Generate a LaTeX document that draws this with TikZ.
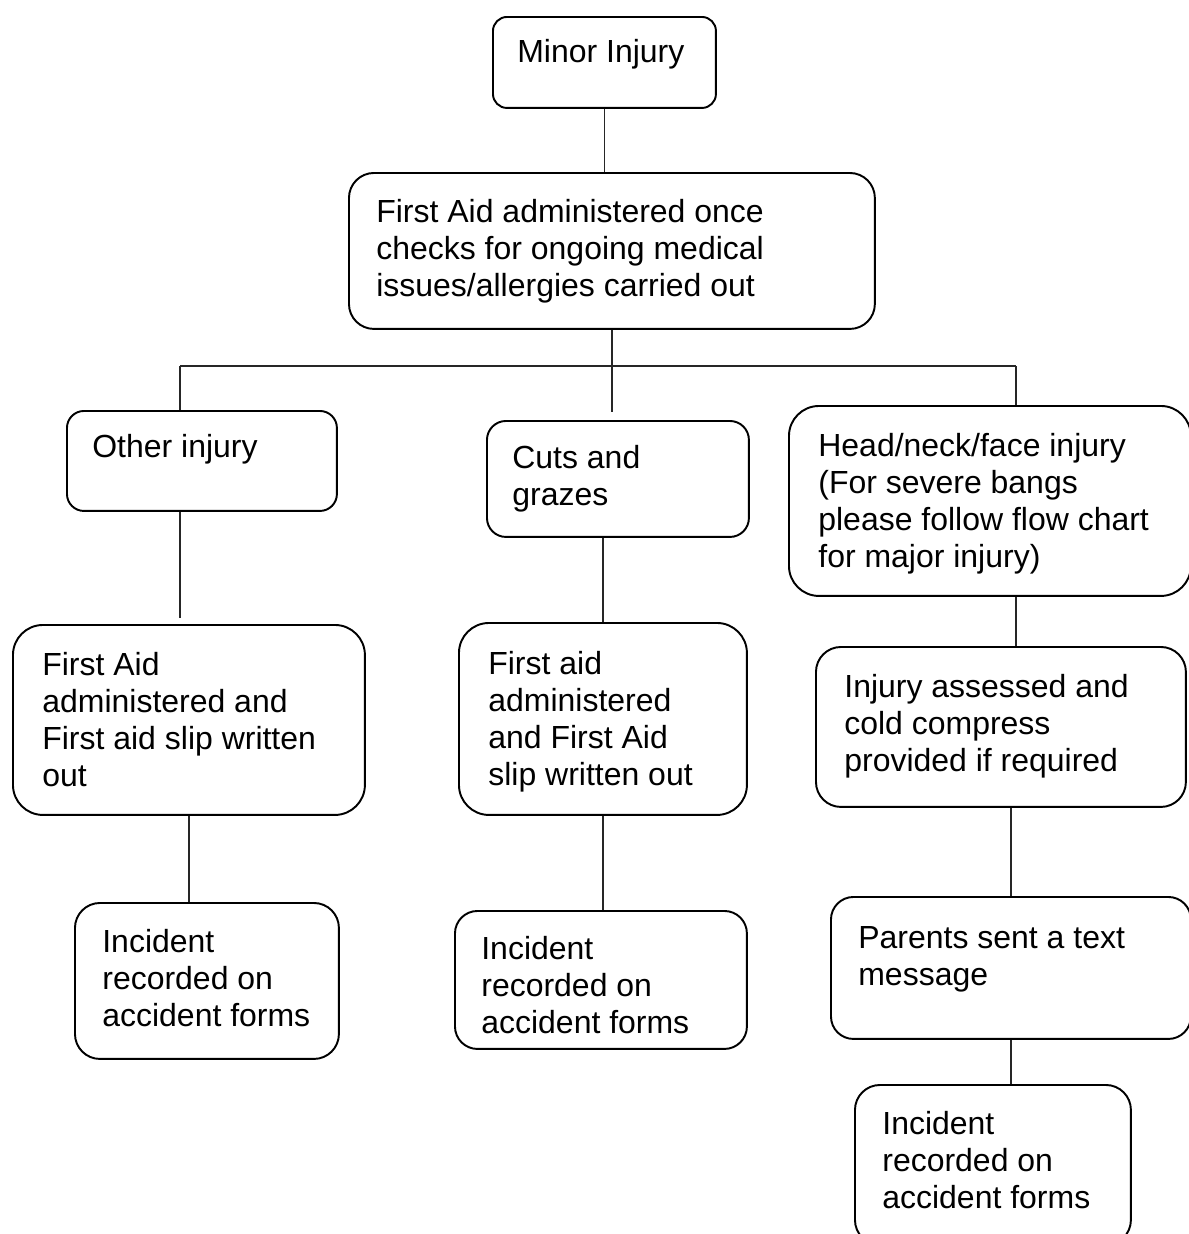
\documentclass[tikz,border=0pt]{standalone}
\usepackage{fontspec}
\setmainfont{Liberation Sans}
\usepackage{tikz}
\usetikzlibrary{positioning,calc}

\begin{document}
\begin{tikzpicture}[
  x=0.02cm, y=-0.02cm,
  bx/.style={draw, line width=1.1pt, anchor=north west, inner sep=0pt, rounded corners=#1},
  tx/.style={anchor=base west, inner sep=0pt, align=left, font=\fontsize{18.2}{21}\selectfont},
  ln/.style={line width=0.7pt, color=black!85}
]
\useasboundingbox (0,0) rectangle (1188,1234);
% text nodes sit on the baseline of their last line
%--- top ---
\node[bx=0.28cm, minimum width=4.46cm, minimum height=1.82cm] (mi) at (492,16) {};
\node[tx] (mi-t) at (517,62) {Minor Injury};
\node[bx=0.5cm, minimum width=10.52cm, minimum height=3.12cm] (fa) at (348,172) {};
\node[tx] (fa-t) at (376,296) {First Aid administered once\\checks for ongoing medical\\issues/allergies carried out};
%--- branches ---
\node[bx=0.34cm, minimum width=5.40cm, minimum height=2.00cm] (oi) at (66,410) {};
\node[tx] (oi-t) at (92,457) {Other injury};
\node[bx=0.38cm, minimum width=5.24cm, minimum height=2.32cm] (cg) at (486,420) {};
\node[tx] (cg-t) at (512,505) {Cuts and\\grazes};
\node[bx=0.6cm, minimum width=8.04cm, minimum height=3.80cm] (hd) at (788,405) {};
\node[tx] (hd-t) at (818,567) {Head/neck/face injury\\(For severe bangs\\please follow flow chart\\for major injury)};
%--- first aid ---
\node[bx=0.6cm, minimum width=7.04cm, minimum height=3.80cm] (fl) at (12,624) {};
\node[tx] (fl-t) at (42,786) {First Aid\\administered and\\First aid slip written\\out};
\node[bx=0.6cm, minimum width=5.76cm, minimum height=3.84cm] (fm) at (458,622) {};
\node[tx] (fm-t) at (488,785) {First aid\\administered\\and First Aid\\slip written out};
\node[bx=0.5cm, minimum width=7.40cm, minimum height=3.20cm] (ia) at (815,646) {};
\node[tx] (ia-t) at (844,771) {Injury assessed and\\cold compress\\provided if required};
%--- records ---
\node[bx=0.5cm, minimum width=5.28cm, minimum height=3.12cm] (il) at (74,902) {};
\node[tx] (il-t) at (102,1026) {Incident\\recorded on\\accident forms};
\node[bx=0.45cm, minimum width=5.84cm, minimum height=2.76cm] (im) at (454,910) {};
\node[tx] (im-t) at (481,1033) {Incident\\recorded on\\accident forms};
\node[bx=0.45cm, minimum width=7.20cm, minimum height=2.84cm] (ps) at (830,896) {};
\node[tx] (ps-t) at (858,985) {Parents sent a text\\message};
\node[bx=0.5cm, minimum width=5.52cm, minimum height=3.20cm] (ir) at (854,1084) {};
\node[tx] (ir-t) at (882,1208) {Incident\\recorded on\\accident forms};
%--- connectors ---
\coordinate (bl) at (180,366);
\coordinate (br) at (1016,366);
\draw[ln] (mi.south) -- (mi.south |- fa.north);
\draw[ln] (bl) -- (br);
\draw[ln] (bl) -- (bl |- oi.north);
\draw[ln] (br) -- (br |- hd.north);
\draw[ln] (fa.south) -- ($(fa.south |- cg.north)+(0,-8)$);
\draw[ln] (oi.south -| bl) -- ($(fl.north -| bl)+(0,-6)$);
\draw[ln] (fm.north) -- (fm.north |- cg.south);
\draw[ln] (fl.south) -- (fl.south |- il.north);
\draw[ln] (fm.south) -- (fm.south |- im.north);
\draw[ln] (br |- hd.south) -- (br |- ia.north);
\draw[ln] (ps.north) -- (ps.north |- ia.south);
\draw[ln] (ps.south) -- (ps.south |- ir.north);
\end{tikzpicture}
\end{document}
